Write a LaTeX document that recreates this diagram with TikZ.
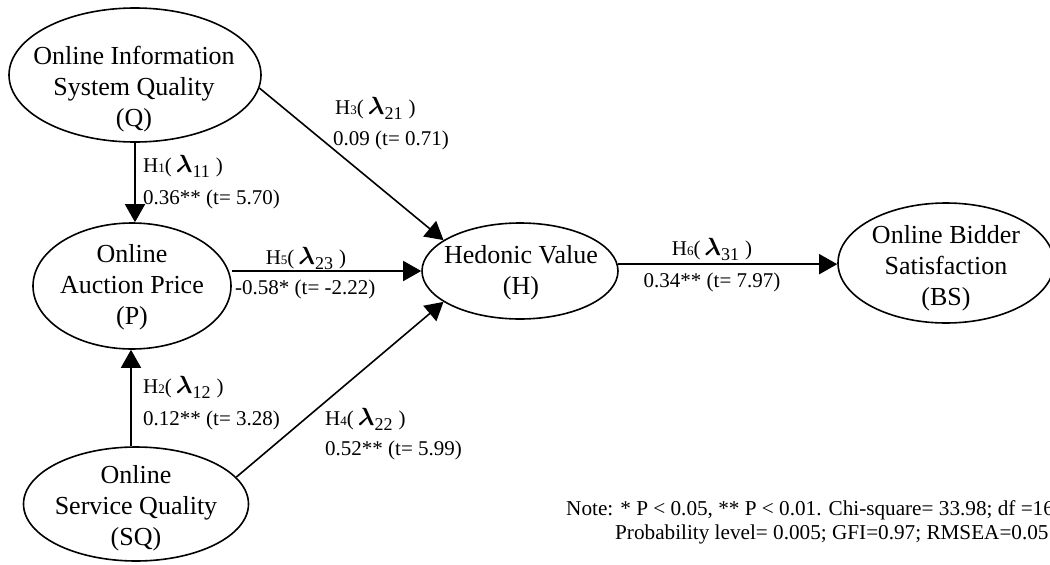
\documentclass[tikz,border=0pt]{standalone}
\usepackage{fontspec}
\usepackage{bm}
\setmainfont{Liberation Serif}
\usetikzlibrary{shapes.geometric,arrows.meta}
\newcommand{\hyplab}[2]{H\raisebox{-0.5pt}{\fontsize{13}{13}\selectfont #1}(\hspace{4pt}{\fontsize{27}{27}\selectfont$\bm{\lambda}$}\raisebox{-5pt}{\fontsize{18}{18}\selectfont #2}\hspace{6pt})}
\begin{document}
\begin{tikzpicture}[x=1pt,y=-1pt,
  lat/.style={draw, ellipse, line width=1.6pt, inner sep=0pt},
  ltxt/.style={align=center, font=\fontsize{26}{31}\selectfont, inner sep=0pt},
  lab/.style={anchor=base west, font=\fontsize{21}{24}\selectfont, inner sep=0pt},
  labc/.style={anchor=base, font=\fontsize{21}{24}\selectfont, inner sep=0pt},
  note/.style={anchor=base west, font=\fontsize{21.2}{24}\selectfont, inner sep=0pt},
  conn/.style={line width=1.6pt, -{Triangle[length=18pt,width=20pt]}}
]
\useasboundingbox (0,0) rectangle (1050,565);
% latent variables
\node[lat, minimum width=252pt, minimum height=134pt] (Q) at (135,75) {};
\node[ltxt] (Qt) at (134,89) {Online Information\\System Quality\\(Q)};
\node[lat, minimum width=198pt, minimum height=126pt] (P) at (132,286) {};
\node[ltxt] (Pt) at (132,287) {Online\\Auction Price\\(P)};
\node[lat, minimum width=225pt, minimum height=114pt] (SQ) at (136,504) {};
\node[ltxt] (SQt) at (136,508) {Online\\Service Quality\\(SQ)};
\node[lat, minimum width=196pt, minimum height=96pt] (H) at (520,271) {};
\node[ltxt] (Ht) at (521,273) {Hedonic Value\\(H)};
\node[lat, minimum width=216pt, minimum height=120pt] (BS) at (946,263) {};
\node[ltxt] (BSt) at (946,268) {Online Bidder\\Satisfaction\\(BS)};
% connectors
\draw[conn] (Q.south) -- (Q.south |- P.north);
\draw[conn] ([xshift=-5pt]SQ.north) -- ([xshift=-5pt]SQ.north |- P.south);
\draw[conn] (Q.-6) -- (H.158);
\draw[conn] (P.east |- H.west) -- (H.west);
\draw[conn] (SQ.15) -- (H.202);
\draw[conn] (H.4) -- (BS.west |- H.4);
% labels
\node[lab] (l3a) at (335,114) {\hyplab{3}{21}};
\node[lab] (l3b) at (333,145) {0.09 (t= 0.71)};
\node[lab] (l1a) at (143,172) {\hyplab{1}{11}};
\node[lab] (l1b) at (143,204) {0.36** (t= 5.70)};
\node[labc] (l5a) at (306,264) {\hyplab{5}{23}};
\node[lab] (l5b) at (235,294) {-0.58* (t= -2.22)};
\node[lab] (l2a) at (143,393) {\hyplab{2}{12}};
\node[lab] (l2b) at (143,425) {0.12** (t= 3.28)};
\node[lab] (l4a) at (325,425) {\hyplab{4}{22}};
\node[lab] (l4b) at (325,455) {0.52** (t= 5.99)};
\node[labc] (l6a) at (712,255) {\hyplab{6}{31}};
\node[labc] (l6b) at (712,287) {0.34** (t= 7.97)};
% note
\node[note] (n1) at (566,515) {Note: * P < 0.05, ** P < 0.01. Chi-square= 33.98; df =16};
\node[note] (n2) at (615,539) {Probability level= 0.005; GFI=0.97; RMSEA=0.05};
\end{tikzpicture}
\end{document}
